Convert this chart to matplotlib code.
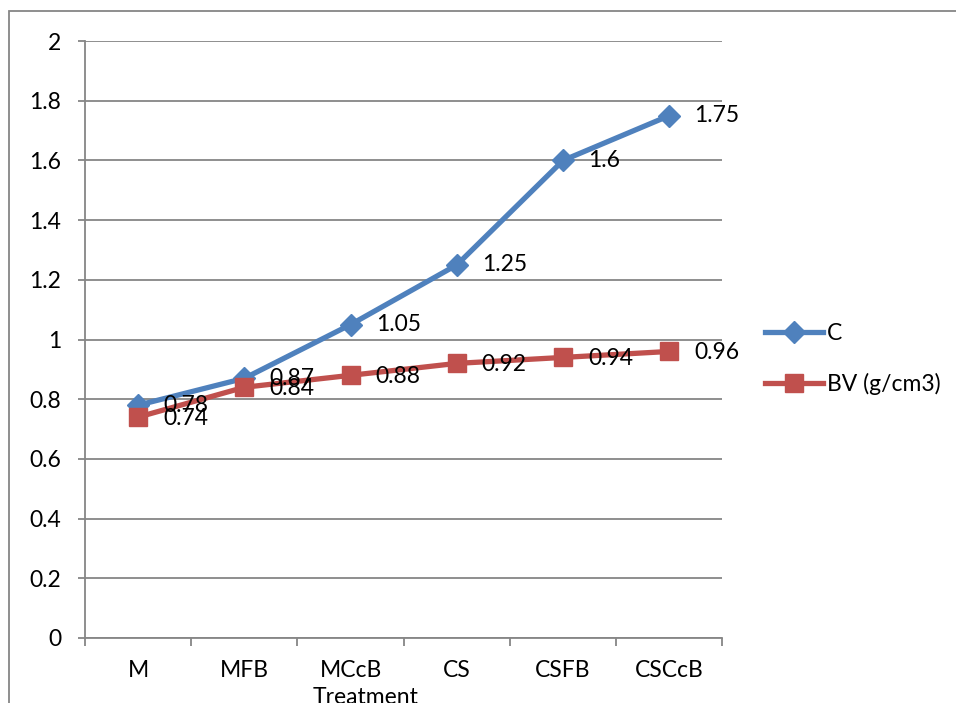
import matplotlib.pyplot as plt
from matplotlib.patches import Rectangle

# data
treatments = ['M', 'MFB', 'MCcB', 'CS', 'CSFB', 'CSCcB']
c_values = [0.78, 0.87, 1.05, 1.25, 1.6, 1.75]
bv_values = [0.74, 0.84, 0.88, 0.92, 0.94, 0.96]
y_ticks = [0, 0.2, 0.4, 0.6, 0.8, 1, 1.2, 1.4, 1.6, 1.8, 2]

BLUE = '#4F81BD'
RED = '#C0504D'
GRID = '#868686'

plt.rcParams['font.family'] = ['Lato', 'DejaVu Sans']
FS = 16.5

fig = plt.figure(figsize=(9.56, 7.03), dpi=100)
ax = fig.add_axes([85 / 956, 65 / 703, (722.5 - 85) / 956, (638 - 41) / 703])

x = list(range(len(treatments)))
ax.plot(x, c_values, color=BLUE, lw=3.8, marker='D', ms=11, label='C', zorder=3)
ax.plot(x, bv_values, color=RED, lw=3.8, marker='s', ms=13, label='BV (g/cm3)', zorder=4)

for xi, v in zip(x, c_values):
    ax.annotate(f'{v:g}', (xi, v), xytext=(18, 0), textcoords='offset points',
                ha='left', va='center', fontsize=FS, zorder=5)
for xi, v in zip(x, bv_values):
    ax.annotate(f'{v:g}', (xi, v), xytext=(18, -1), textcoords='offset points',
                ha='left', va='center', fontsize=FS, zorder=5)

ax.set_xlim(-0.5, len(treatments) - 0.5)
ax.set_ylim(0, 2)
ax.set_yticks(y_ticks)
ax.set_yticklabels([f'{t:g}' for t in y_ticks])
ax.yaxis.grid(True, color=GRID, lw=1.3)
ax.set_axisbelow(True)

ax.set_xticks(x)
ax.set_xticklabels(treatments)
ax.set_xticks([i - 0.5 for i in range(len(treatments) + 1)], minor=True)
ax.tick_params(axis='x', which='major', length=0, pad=16, labelsize=FS)
ax.tick_params(axis='x', which='minor', length=6, width=1.3, color=GRID)
ax.tick_params(axis='y', length=5, width=1.3, color=GRID, pad=12, labelsize=FS)

for side in ['top', 'right']:
    ax.spines[side].set_visible(False)
for side in ['left', 'bottom']:
    ax.spines[side].set_color(GRID)
    ax.spines[side].set_linewidth(1.3)

fig.text(366 / 956, 1 - 697 / 703, 'Treatment', ha='center', va='center', fontsize=FS)

ax.legend(loc='center left', bbox_to_anchor=(754 / 956, 1 - 359 / 703),
          bbox_transform=fig.transFigure, frameon=False, fontsize=FS,
          handlelength=2.5, handletextpad=0.2, labelspacing=1.25, borderpad=0)

# outer chart border (right and bottom edges run off the picture)
fig.patches.append(Rectangle((9 / 956, -0.05), 1.2, 0.05 + (703 - 11) / 703,
                             transform=fig.transFigure, fill=False,
                             edgecolor=GRID, lw=1.3))

fig.savefig('out.png', dpi=100)
